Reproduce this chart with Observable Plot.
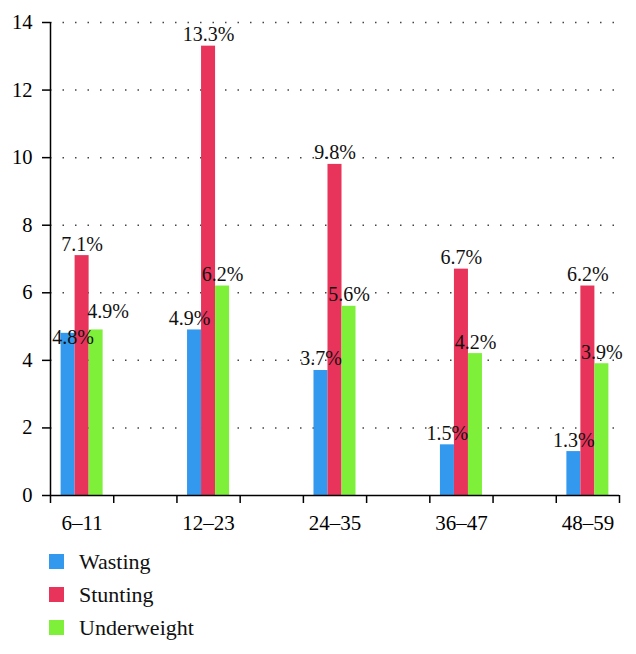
<!DOCTYPE html>
<html>
<head>
<meta charset="utf-8">
<script src="https://cdn.jsdelivr.net/npm/d3@7"></script>
<script src="https://cdn.jsdelivr.net/npm/@observablehq/plot@0.6"></script>
<style>
  html, body { margin: 0; padding: 0; background: #fff; }
  #chart svg { display: block; }
  .legend { font-family: "Liberation Serif", "Times New Roman", serif; font-size: 22px; color: #111; }
  .legend .row { display: flex; align-items: center; height: 33px; padding-left: 49px; }
  .legend .sw { width: 15px; height: 15px; margin-right: 15px; }
</style>
</head>
<body>
<div id="chart"></div>
<div class="legend" id="legend"></div>
<script>
const categories = ["6–11", "12–23", "24–35", "36–47", "48–59"];
const series = ["Wasting", "Stunting", "Underweight"];
const wasting = [4.8, 4.9, 3.7, 1.5, 1.3];
const stunting = [7.1, 13.3, 9.8, 6.7, 6.2];
const underweight = [4.9, 6.2, 5.6, 4.2, 3.9];
const yTicks = [0, 2, 4, 6, 8, 10, 12, 14];
const colors = ["#3399ee", "#e8335a", "#7ef03a"];

const values = [wasting, stunting, underweight];
const barW = 0.1108;
const data = [];
categories.forEach((c, i) => {
  series.forEach((s, k) => {
    data.push({cat: c, i, series: s, k, value: values[k][i], pos: i + (k - 1) * barW});
  });
});

// label placement tweaks seen in the reference (avoid overlapping labels)
const nudge = (d) => {
  if (d.i === 0 && d.k === 0) return {dx: 5, dy: 16};
  if (d.i === 0 && d.k === 2) return {dx: 12, dy: -7};
  if (d.i === 1 && d.k === 0) return {dx: -5, dy: 0};
  return {dx: 0, dy: 0};
};

const xTicks = d3.range(0, 10).map(j => -0.25 + j * 0.5);
const FONT = "'Liberation Serif', 'Times New Roman', serif";

const chart = Plot.plot({
  width: 636,
  height: 545,
  marginLeft: 50,
  marginRight: 17,
  marginTop: 22,
  marginBottom: 50,
  style: {fontFamily: FONT, fontSize: "20px", color: "#000", background: "#fff"},
  x: {type: "linear", domain: [-0.25, 4.25]},
  y: {domain: [0, 14]},
  color: {domain: series, range: colors},
  marks: [
    Plot.gridY(yTicks.filter(d => d > 0), {stroke: "#444", strokeOpacity: 1, strokeWidth: 1.5, strokeDasharray: "1.5 11"}),
    Plot.rectY(data, {x1: d => d.pos - barW / 2, x2: d => d.pos + barW / 2, y: "value", fill: "series"}),
    ...data.map(d => Plot.text([d], {x: "pos", y: "value", text: d => d.value.toFixed(1) + "%", lineAnchor: "bottom", dx: nudge(d).dx, dy: -5 + nudge(d).dy, fontSize: 20, fill: "#111"})),
    Plot.axisY(yTicks, {tickSize: 8, tickPadding: 10, fontSize: 20.5, strokeWidth: 1.5, label: null}),
    Plot.ruleX([-0.25], {y1: 0, y2: 14, stroke: "#000", strokeWidth: 1.5}),
    Plot.ruleY([0], {stroke: "#000", strokeWidth: 1.5}),
    Plot.axisX(xTicks, {tickSize: 8, tickFormat: () => "", strokeWidth: 1.5, label: null}),
    Plot.axisX(d3.range(categories.length), {tickSize: 0, tickPadding: 20, tickFormat: i => categories[i], fontSize: 21, label: null})
  ]
});
document.getElementById("chart").appendChild(chart);

const legend = document.getElementById("legend");
series.forEach((s, k) => {
  const row = document.createElement("div");
  row.className = "row";
  const sw = document.createElement("div");
  sw.className = "sw";
  sw.style.background = colors[k];
  const t = document.createElement("span");
  t.textContent = s;
  row.appendChild(sw);
  row.appendChild(t);
  legend.appendChild(row);
});
</script>
</body>
</html>
